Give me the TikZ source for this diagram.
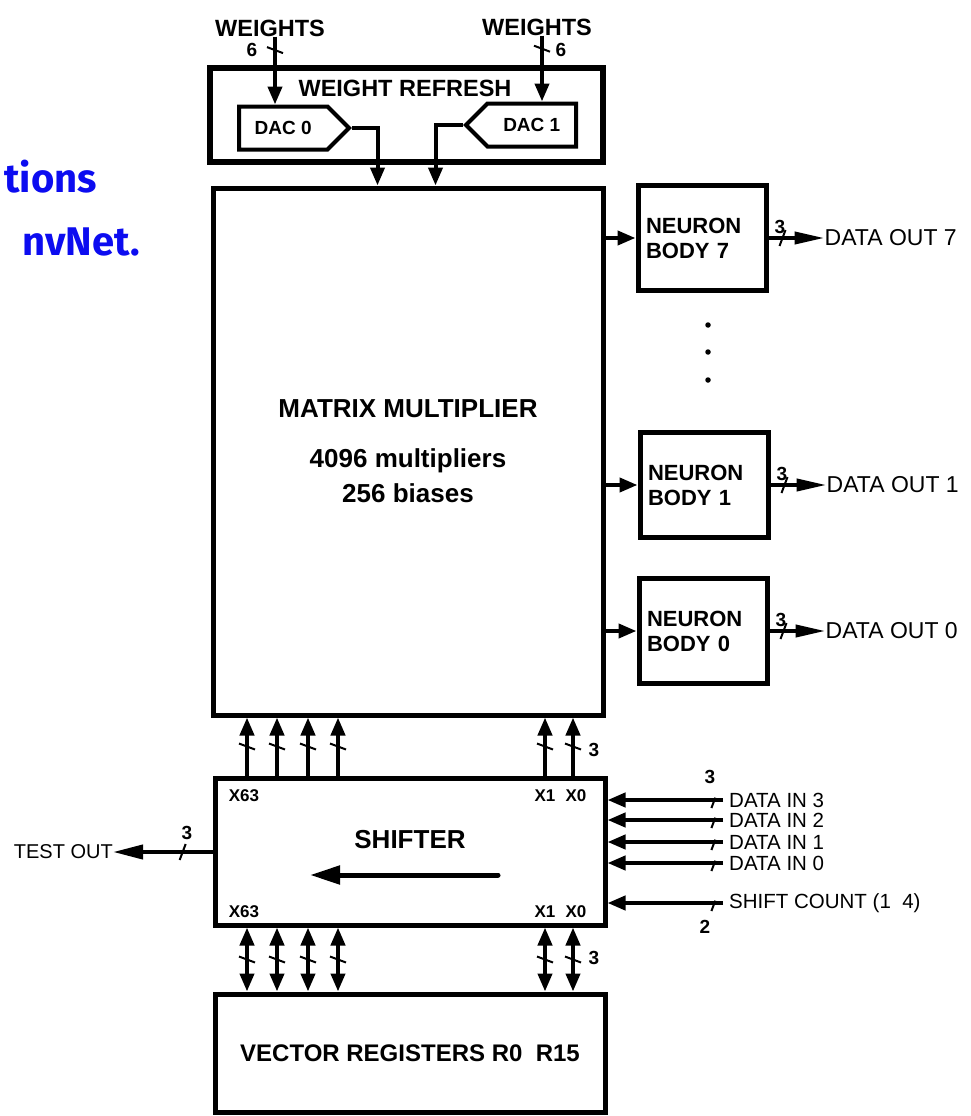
\documentclass[tikz,border=0pt]{standalone}
\usepackage{fontspec}
\setmainfont{Liberation Sans}
\newfontfamily\slidefont{Fira Sans}
\usepackage{tikz}
\usetikzlibrary{arrows.meta, positioning, shapes.symbols, calc, decorations.markings}
\definecolor{slideblue}{RGB}{12,12,240}

\begin{document}
\begin{tikzpicture}[x=1pt, y=-1pt, >={Triangle[length=18pt,width=14pt]},
    box/.style={draw, line width=5pt, minimum width=390pt, align=center},
    nbox/.style={draw, line width=5pt, minimum height=105pt, text width=112pt, inner sep=8pt,
                 align=left, font=\fontsize{22}{25}\selectfont\bfseries},
    dac/.style={draw, line width=4pt, signal, signal pointer angle=90, minimum height=43pt,
                minimum width=110pt, font=\fontsize{19}{22}\selectfont\bfseries},
    boldtxt/.style={inner sep=0, font=\fontsize{23.5}{27}\selectfont\bfseries},
    numtxt/.style={inner sep=0, font=\fontsize{19}{22}\selectfont\bfseries},
    xlbl/.style={inner sep=0, font=\fontsize{17}{20}\selectfont\bfseries},
    outtxt/.style={inner sep=0, anchor=west, font=\fontsize{23}{26}\selectfont},
    intxt/.style={inner sep=0, anchor=west, font=\fontsize{20.5}{24}\selectfont},
    slide/.style={inner sep=0, text=slideblue, font=\fontsize{40}{46}\selectfont\slidefont\bfseries},
    bus/.style={line width=4pt},
    bustick/.style={postaction={decorate, decoration={markings, mark=at position #1 with
                    {\draw[-, line width=2pt] (-3pt,-8pt) -- (3pt,8pt);}}}},
    bustick/.default=0.5,
    vdot/.style={circle, fill, inner sep=0, minimum size=5.5pt}
]
\useasboundingbox (0,0) rectangle (970,1116);

\node[slide, anchor=base east] (frag1) at (97,192) {tions};
\node[slide, anchor=base east] (frag2) at (140,255) {nvNet.};

\node[box, line width=6pt, minimum width=393pt, minimum height=94pt] (wr) at (406.5,115) {};
\node[boldtxt] (wrt) at (405,88) {WEIGHT REFRESH};
\node[dac, signal to=east, anchor=west] (dac0) at (237,128) {DAC 0};
\node[dac, signal to=west, anchor=east] (dac1) at (578,125) {DAC 1};
\node[boldtxt] (wtl) at (270,28) {WEIGHTS};
\node[boldtxt] (wtr) at (537,27) {WEIGHTS};
\coordinate (wl) at ([xshift=5pt]wtl.south);
\coordinate (wrr) at ([xshift=5pt]wtr.south);
\draw[bus, bustick=0.2, ->] (wl) -- (wl |- dac0.north);
\draw[bus, bustick=0.2, ->] (wrr) -- (wrr |- dac1.north);
\node[numtxt] (six0) at (252,50) {6};
\node[numtxt] (six1) at (561,50) {6};

\node[box, minimum height=527pt, font=\fontsize{26}{31}\selectfont\bfseries] (mm) at (408,451.5)
    {MATRIX MULTIPLIER\\[19pt]4096 multipliers\\[4pt]256 biases};
\draw[bus, ->] (dac0.east) -| ($(mm.north west)+(167,0)$);
\draw[bus, ->] (dac1.west) -| ($(mm.north west)+(225,0)$);

\node[nbox] (nb7) at (702,238) {NEURON\\BODY 7};
\node[nbox] (nb1) at (704,485) {NEURON\\BODY 1};
\node[nbox] (nb0) at (703,631) {NEURON\\BODY 0};
\foreach \yd [count=\i] in {325,352,380}
    \node[vdot] (dot\i) at (708,\yd) {};
\foreach \k in {7,1,0} {
    \node[outtxt, right=56pt of nb\k] (dout\k) {DATA OUT \k};
    \draw[bus, ->] (nb\k.west -| mm.east) -- (nb\k.west);
    \draw[bus, bustick=0.25, -{Triangle[length=30pt,width=12pt]}] (nb\k.east) -- (dout\k.west);
    \node[numtxt, anchor=south west] (w\k) at ([xshift=6pt,yshift=4pt]nb\k.east) {3};
}

\node[box, minimum height=147pt] (shft) at (410,851.5) {};
\node[boldtxt, font=\fontsize{26}{31}\selectfont\bfseries] (shtitle) at (410,840) {SHIFTER};
\coordinate (sha) at (498,875);
\coordinate (shb) at (310,875);
\draw[line width=5pt, line cap=round, -{Triangle[length=30pt,width=18pt]}] (sha) -- (shb);
\node[xlbl] (xa63) at (244,796) {X63};
\node[xlbl] (xa1) at (545,796) {X1};
\node[xlbl] (xa0) at (576,796) {X0};
\node[xlbl] (xb63) at (244,912) {X63};
\node[xlbl] (xb1) at (545,912) {X1};
\node[xlbl] (xb0) at (576,912) {X0};

\node[box, minimum height=118pt, font=\fontsize{24}{28}\selectfont\bfseries] (vr) at (410,1053)
    {VECTOR REGISTERS R0\ \ R15};

\foreach \xb [count=\i] in {247,277,308,338,545,573} {
    \coordinate (b\i) at (\xb,750);
    \draw[bus, bustick, ->] (b\i |- shft.north) -- (b\i |- mm.south);
    \draw[bus, bustick, <->] (b\i |- shft.south) -- (b\i |- vr.north);
}
\node[numtxt] (t3a) at (594,750) {3};
\node[numtxt] (t3b) at (594,958) {3};

\node[intxt] (din3) at (729,800) {DATA IN 3};
\node[intxt] (din2) at (729,820) {DATA IN 2};
\node[intxt] (din1) at (729,842) {DATA IN 1};
\node[intxt] (din0) at (729,863) {DATA IN 0};
\node[intxt] (scnt) at (729,903) {SHIFT COUNT (1\ \ 4)};
\foreach \n in {din3,din2,din1,din0,scnt}
    \draw[bus, bustick=0.12, ->, shorten <=6pt] (\n.west) -- (\n.west -| shft.east);
\node[numtxt] (t3c) at (710,777) {3};
\node[numtxt] (t2) at (705,927) {2};

\node[outtxt, anchor=east, font=\fontsize{20}{24}\selectfont] (tout) at (113,852) {TEST OUT};
\draw[bus, bustick=0.3, -{Triangle[length=30pt,width=14pt]}] (tout.east -| shft.west) -- (tout.east);
\node[numtxt] (t3d) at (187,833) {3};
\end{tikzpicture}
\end{document}
